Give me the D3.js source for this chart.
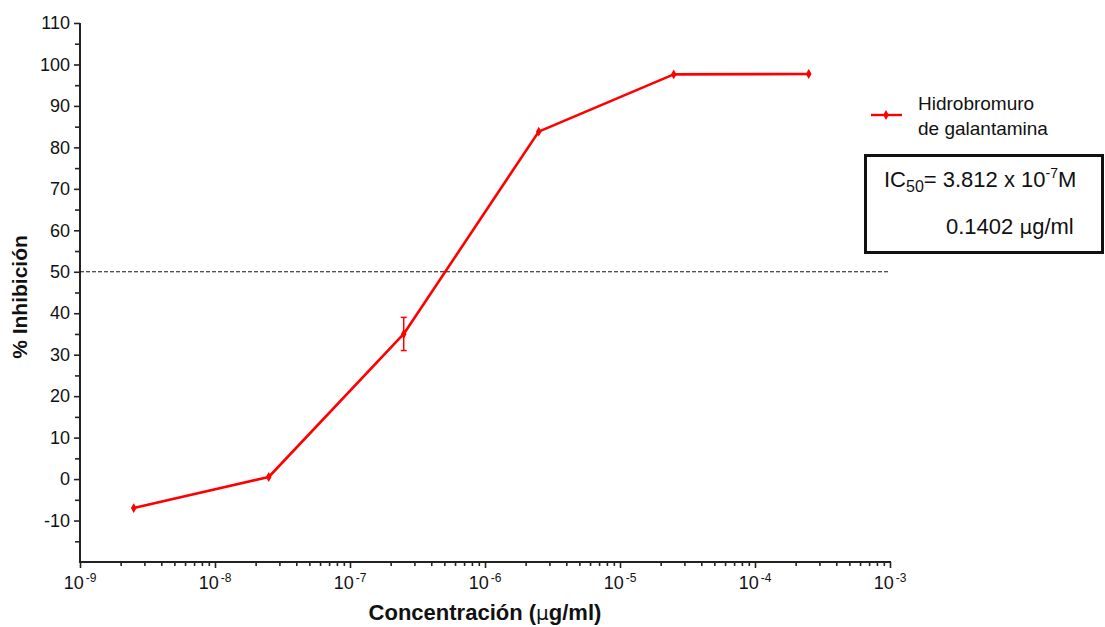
<!DOCTYPE html>
<html>
<head>
<script src="https://d3js.org/d3.v7.min.js"></script>
<style>
    body{ margin:0; background:#fff; font-family:"Liberation Sans", Arial, sans-serif; }
</style>
</head>
<body>
<div id="chart"></div>
<script>
// data
var conc = [2.5e-9, 2.5e-8, 2.5e-7, 2.5e-6, 2.5e-5, 2.5e-4]
var inhib = [-7, 0.5, 35, 83.8, 97.6, 97.7]
var errLow = [null, null, 31, null, null, null]
var errHigh = [null, null, 39, null, null, null]
var yTicks = [-10, 0, 10, 20, 30, 40, 50, 60, 70, 80, 90, 100, 110]
var xExponents = [-9, -8, -7, -6, -5, -4, -3]
var seriesName = ["Hidrobromuro", "de galantamina"]

var W = 1105, H = 627
var svg = d3.select("#chart").append("svg").attr("width", W).attr("height", H)

var x = d3.scaleLog().domain([1e-9, 1e-3]).range([80, 890])
var y = d3.scaleLinear().domain([-20, 110]).range([562, 23])
var red = "#ff0000"

// y axis
var yMinor = d3.range(-15, 110, 10)
svg.append("g").attr("transform", "translate(80,0)")
    .call(d3.axisLeft(y).tickValues(yMinor).tickSize(5).tickFormat(""))
svg.append("g").attr("class", "yax").attr("transform", "translate(80,0)")
    .call(d3.axisLeft(y).tickValues(yTicks).tickSize(6).tickPadding(4)
        .tickFormat(function(d){ return String(d) }))
svg.selectAll("g .domain").remove()
svg.append("line").attr("x1", 80).attr("x2", 80).attr("y1", y(110)).attr("y2", y(-20))
    .attr("stroke", "#222").attr("stroke-width", 2)
svg.selectAll(".yax text").attr("font-size", 18).attr("font-family", "Liberation Sans, Arial").attr("fill", "#111")

// x axis
var majors = xExponents.map(function(e){ return Math.pow(10, e) })
var minors = []
for (var e = -9; e < -3; e++) for (var k = 2; k <= 9; k++) minors.push(k * Math.pow(10, e))
svg.append("g").attr("class", "xmin").attr("transform", "translate(0,562)")
    .call(d3.axisBottom(x).tickValues(minors).tickSize(4).tickFormat(""))
svg.append("g").attr("class", "xmaj").attr("transform", "translate(0,562)")
    .call(d3.axisBottom(x).tickValues(majors).tickSize(6).tickFormat(""))
svg.selectAll(".xmin .domain, .xmaj .domain").remove()
svg.append("line").attr("x1", 79).attr("x2", 891).attr("y1", 562).attr("y2", 562)
    .attr("stroke", "#222").attr("stroke-width", 2)
svg.selectAll(".tick line").attr("stroke", "#222").attr("stroke-width", 1.6)

svg.append("g").selectAll("text").data(xExponents).enter().append("text")
    .attr("x", function(d){ return x(Math.pow(10, d)) })
    .attr("y", 589)
    .attr("text-anchor", "middle")
    .attr("font-size", 18).attr("fill", "#111")
    .each(function(d){
        var t = d3.select(this)
        t.append("tspan").text("10")
        t.append("tspan").attr("dy", -7).attr("dx", 2).attr("font-size", 12).text(d)
    })

// axis titles
svg.append("text").attr("x", 485).attr("y", 620).attr("text-anchor", "middle")
    .attr("font-size", 22).attr("font-weight", "bold").attr("fill", "#111")
    .html("Concentración (<tspan font-family='DejaVu Sans' font-weight='normal' font-size='20'>µ</tspan>g/ml)")
svg.append("text").attr("transform", "translate(27,297) rotate(-90)").attr("text-anchor", "middle")
    .attr("font-size", 21).attr("font-weight", "bold").attr("fill", "#111")
    .text("% Inhibición")

// dashed 50% line
svg.append("line").attr("x1", 80).attr("x2", 890).attr("y1", y(50)).attr("y2", y(50))
    .attr("stroke", "#111").attr("stroke-width", 1).attr("stroke-dasharray", "4,2")

// series
var pts = conc.map(function(c, i){ return {c: c, v: inhib[i], lo: errLow[i], hi: errHigh[i]} })
var line = d3.line().x(function(d){ return x(d.c) }).y(function(d){ return y(d.v) })
svg.append("path").datum(pts).attr("d", line).attr("fill", "none")
    .attr("stroke", red).attr("stroke-width", 2.6).attr("stroke-linejoin", "round")

var eb = pts.filter(function(d){ return d.lo != null })
var ebg = svg.append("g").attr("stroke", red).attr("stroke-width", 1.5)
eb.forEach(function(d){
    var cx = x(d.c)
    ebg.append("line").attr("x1", cx).attr("x2", cx).attr("y1", y(d.lo)).attr("y2", y(d.hi))
    ebg.append("line").attr("x1", cx - 3).attr("x2", cx + 3).attr("y1", y(d.lo)).attr("y2", y(d.lo))
    ebg.append("line").attr("x1", cx - 3).attr("x2", cx + 3).attr("y1", y(d.hi)).attr("y2", y(d.hi))
})

var diamond = d3.symbol().type(d3.symbolDiamond).size(28)
svg.append("g").selectAll("path").data(pts).enter().append("path")
    .attr("d", diamond)
    .attr("transform", function(d){ return "translate(" + x(d.c) + "," + y(d.v) + ")" })
    .attr("fill", red)

// legend
svg.append("line").attr("x1", 871).attr("x2", 902).attr("y1", 115).attr("y2", 115)
    .attr("stroke", red).attr("stroke-width", 2.4)
svg.append("path").attr("d", diamond).attr("transform", "translate(886,115)").attr("fill", red)
svg.append("g").selectAll("text").data(seriesName).enter().append("text")
    .attr("x", 918).attr("y", function(d, i){ return 110 + i * 25 })
    .attr("font-size", 19).attr("fill", "#111").text(function(d){ return d })

// IC50 box
svg.append("rect").attr("x", 865.5).attr("y", 155.5).attr("width", 237).attr("height", 97)
    .attr("fill", "none").attr("stroke", "#111").attr("stroke-width", 3)
var ic = svg.append("text").attr("x", 884).attr("y", 187).attr("font-size", 22).attr("fill", "#111")
ic.append("tspan").text("IC")
ic.append("tspan").attr("dy", 5).attr("font-size", 16).text("50")
ic.append("tspan").attr("dy", -5).text("= 3.812 x 10")
ic.append("tspan").attr("dy", -9).attr("font-size", 14).text("-7")
ic.append("tspan").attr("dy", 9).text("M")
svg.append("text").attr("x", 946).attr("y", 234).attr("font-size", 22).attr("fill", "#111")
    .html("0.1402 <tspan font-family='DejaVu Sans' font-size='20'>µ</tspan>g/ml")
</script>
</body>
</html>
